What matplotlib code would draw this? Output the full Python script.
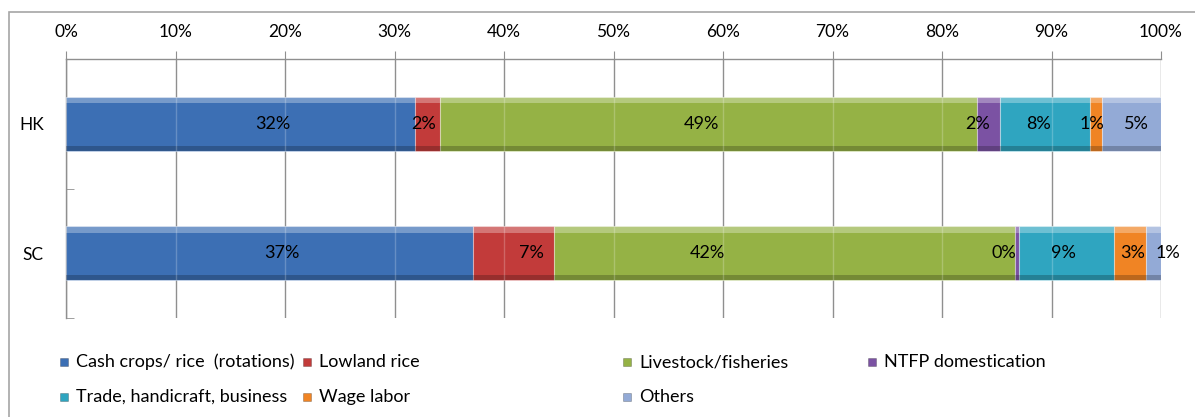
import matplotlib
matplotlib.use("Agg")
import matplotlib.pyplot as plt
from matplotlib.patches import Rectangle
import numpy as np

plt.rcParams['font.family'] = ['Lato', 'DejaVu Sans']

# Income sources by site, share of household income (%)
sites = ["HK", "SC"]
sources = ["Cash crops/ rice  (rotations)", "Lowland rice", "Livestock/fisheries",
           "NTFP domestication", "Trade, handicraft, business", "Wage labor", "Others"]
hk_share = [31.9, 2.3, 49.0, 2.1, 8.2, 1.1, 5.4]
sc_share = [37.2, 7.4, 42.1, 0.3, 8.7, 2.9, 1.4]
x_ticks = [0, 10, 20, 30, 40, 50, 60, 70, 80, 90, 100]
x_tick_labels = [f"{t}%" for t in x_ticks]

colors = ["#3c6fb4", "#c23b3a", "#95b245", "#7b52a3", "#2fa5c0", "#f08424", "#93aad6"]

# horizontal nudges (in % units) for the value labels
hk_label_shift = [2.9, -0.4, -0.7, -1.0, -0.6, -0.4, 0.5]
sc_label_shift = [1.1, 1.6, -7.1, -1.2, -0.3, 0.3, 1.3]

W, H = 1195, 417
fig = plt.figure(figsize=(W / 100, H / 100), dpi=100)
ax = fig.add_axes([66 / W, 1 - 318 / H, (1161 - 66) / W, (318 - 59) / H])

shares = np.array([hk_share, sc_share])
shifts = [hk_label_shift, sc_label_shift]
ypos = np.arange(len(sites))
bar_h = 0.42
grid_c = "#8f8f8f"

ax.set_axisbelow(True)
ax.xaxis.grid(True, color=grid_c, linewidth=1.0)

lefts = np.zeros(len(sites))
for j, (name, col) in enumerate(zip(sources, colors)):
    widths = shares[:, j]
    ax.barh(ypos, widths, left=lefts, height=bar_h, color=col,
            edgecolor=(1, 1, 1, 0.35), linewidth=0.8, zorder=3)
    # bevel: light band at the top, dark band at the bottom
    ax.barh(ypos - bar_h / 2 + bar_h * 0.06, widths, left=lefts, height=bar_h * 0.12,
            color="white", alpha=0.3, linewidth=0, zorder=4)
    ax.barh(ypos + bar_h / 2 - bar_h * 0.05, widths, left=lefts, height=bar_h * 0.10,
            color="black", alpha=0.22, linewidth=0, zorder=4)
    for i in range(len(sites)):
        cx = lefts[i] + widths[i] / 2 + shifts[i][j]
        ax.text(cx, ypos[i], f"{widths[i]:.0f}%", ha="center", va="center",
                fontsize=13, color="black", zorder=6)
    lefts = lefts + widths

# gridlines faintly visible through the bars
for i in range(len(sites)):
    ax.vlines(x_ticks[1:-1], ypos[i] - bar_h / 2, ypos[i] + bar_h / 2,
              color="white", alpha=0.22, linewidth=1.0, zorder=5)

ax.set_xlim(0, 100)
ax.set_ylim(len(sites) - 0.5, -0.5)
ax.set_xticks(x_ticks)
ax.set_xticklabels(x_tick_labels, fontsize=12.5)
ax.xaxis.tick_top()
ax.tick_params(axis="x", direction="out", length=6, color=grid_c, pad=8)

ax.set_yticks(ypos)
ax.set_yticklabels(sites, fontsize=12.5)
ax.tick_params(axis="y", length=0, pad=16)
ax.set_yticks([0.5, 1.5], minor=True)
ax.tick_params(axis="y", which="minor", direction="in", length=6, color=grid_c)

for s in ["right", "bottom"]:
    ax.spines[s].set_visible(False)
for s in ["top", "left"]:
    ax.spines[s].set_color(grid_c)
    ax.spines[s].set_linewidth(1.0)

# chart area frame
fig.add_artist(Rectangle((9 / W, -0.05), 1.2, 1 - 12 / H + 0.05, transform=fig.transFigure,
                         fill=False, edgecolor="#a6a6a6", linewidth=1.2))

# legend laid out in two rows
col_x = [60, 303, 623, 868]
row_y = [362, 397]
for k, (name, col) in enumerate(zip(sources, colors)):
    r, c = divmod(k, 4)
    mx, my = col_x[c], row_y[r]
    fig.add_artist(Rectangle((mx / W, 1 - (my + 4) / H), 8 / W, 8 / H,
                             transform=fig.transFigure, facecolor=col,
                             edgecolor=(0, 0, 0, 0.25), linewidth=0.6))
    fig.text((mx + 16) / W, 1 - my / H, name, ha="left", va="center", fontsize=13)

fig.savefig("out.png", dpi=100)
